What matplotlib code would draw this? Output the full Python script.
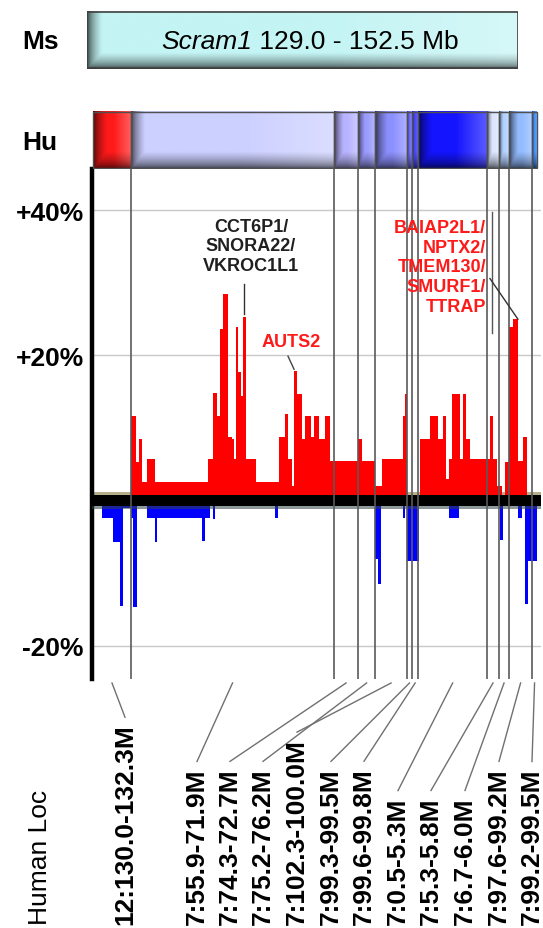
import numpy as np
import matplotlib
matplotlib.use("Agg")
import matplotlib.pyplot as plt
from matplotlib.colors import to_rgb
from matplotlib.lines import Line2D
from matplotlib.patches import Rectangle

plt.rcParams['font.family'] = ['Liberation Sans', 'DejaVu Sans']

# mouse position (Mb) of the step edges, gain (%) between them
gain_edges = [129.00, 131.01, 131.28, 131.43, 131.59, 131.86, 132.28, 135.09, 135.35, 135.56,
              135.72, 135.88, 136.15, 136.36, 136.46, 136.57, 136.67, 136.83, 136.94, 137.10,
              137.63, 138.84, 139.16, 139.32, 139.53, 139.64, 139.80, 140.06, 140.22, 140.54,
              140.70, 140.96, 141.28, 141.54, 143.03, 143.24, 143.93, 144.30, 145.41, 145.51,
              145.62, 146.31, 146.84, 147.26, 147.52, 147.68, 147.84, 148.00, 148.42, 148.58,
              148.74, 148.95, 150.01, 150.17, 150.38, 150.65, 150.81, 151.02, 151.23, 151.49,
              151.76, 151.97, 152.50]
gain_vals = [0, 11.7, 5.3, 8.5, 2.5, 5.7, 2.5, 5.7, 14.8, 11.7,
             23.7, 28.5, 8.8, 8.5, 5.7, 23.9, 17.7, 14.4, 25.3, 5.7,
             2.5, 8.8, 11.9, 5.7, 2.0, 17.9, 14.7, 8.5, 11.7, 8.8,
             11.7, 8.5, 11.7, 5.4, 8.5, 5.4, 2.0, 5.7, 11.6, 14.7,
             0, 8.5, 11.7, 8.5, 11.7, 3.0, 5.7, 14.7, 5.7, 14.7,
             8.5, 5.7, 11.7, 5.7, 2.0, 0, 5.3, 23.9, 25.0, 5.4,
             8.8, 0]

loss_edges = [129.00, 129.11, 129.48, 130.06, 130.43, 130.59, 131.01, 131.12, 131.33, 131.86,
              132.28, 132.39, 134.77, 134.93, 135.19, 135.35, 135.46, 138.63, 138.79, 143.93,
              144.08, 144.24, 145.41, 145.51, 145.62, 146.25, 147.84, 148.37, 150.54, 150.70,
              151.49, 151.71, 151.86, 152.02, 152.50]
loss_vals = [0, -0.8, -2.4, -5.7, -14.5, -1.0, -2.4, -14.7, -0.6, -2.4,
             -5.7, -2.4, -5.6, -2.4, 0, -2.6, 0, -2.4, 0, -8.1,
             -11.5, 0, -2.4, 0, -8.3, 0, -2.4, 0, -5.5, 0,
             -2.4, 0, -14.3, -8.3]

# human synteny blocks
seg_edges = [129.00, 131.01, 141.76, 143.03, 143.93, 145.62, 145.88, 146.22,
             149.85, 150.49, 151.02, 152.24, 152.50]
seg_colors = ['#ff1a1a', '#ccd0ff', '#b8b4ff', '#9c9cff', '#8c90ff', '#6464ff',
              '#4a4aff', '#1414ff', '#dce6ff', '#b4d2ff', '#94bcff', '#3a8cff']
human_loc = ['12:130.0-132.3M', '7:55.9-71.9M', '7:74.3-72.7M', '7:75.2-76.2M',
             '7:102.3-100.0M', '7:99.3-99.5M', '7:99.6-99.8M', '7:0.5-5.3M',
             '7:5.3-5.8M', '7:6.7-6.0M', '7:97.6-99.2M', '7:99.2-99.5M']
label_x = [125, 197, 230, 263, 297, 331, 364, 398, 431, 465, 499, 532]

W, H = 543, 929
fig = plt.figure(figsize=(W / 100, H / 100), dpi=100)


def px_axes(x0, y0, x1, y1):
    return fig.add_axes([x0 / W, 1 - y1 / H, (x1 - x0) / W, (y1 - y0) / H])


def bevel(color, wpx, edge_px=14, bot=0.3, nx=200, ny=60):
    rgb = np.array(to_rgb(color))
    xs = (np.arange(nx) + 0.5) / nx * wpx
    ys = (np.arange(ny) + 0.5) / ny
    lw = min(edge_px, 0.4 * wpx)
    fx = np.clip(xs / lw, 0, 1)
    fy = np.clip((1 - ys) / bot, 0, 1)
    f = np.sqrt(np.minimum(fx[None, :], fy[:, None]))
    img = rgb * (0.12 + 0.88 * f)[..., None]
    hx = np.clip((xs / wpx - 0.55) / 0.45, 0, 1) * 0.3
    img = img + (1 - img) * (hx[None, :] * f)[..., None]
    return np.clip(img, 0, 1)


XMIN, XMAX = 128.947, 152.711
PX_PER_MB = 18.894

# main profile
ax = px_axes(92, 170, 541, 680)
for y in (40, 20, -20):
    ax.axhline(y, color='#c8c8c8', lw=1, zorder=0)
ax.axhspan(0.75, 1.2, color='#b5b08a', lw=0, zorder=1)
ax.stairs(gain_vals, gain_edges, baseline=0, fill=True, color='#ff0000', zorder=2)
ax.stairs(loss_vals, loss_edges, baseline=0, fill=True, color='#0000ff', zorder=2)
ax.axhspan(-0.75, 0.75, color='black', lw=0, zorder=4)
ax.axhspan(-1.2, -0.75, color='#2f4444', alpha=0.55, lw=0, zorder=4)
for b in seg_edges[1:-1]:
    ax.axvline(b, color='#5a5a5a', lw=1.2, zorder=5)

ax.set_xlim(XMIN, XMAX)
ax.set_ylim(-24.6, 45.7)
ax.set_xticks([])
ax.set_yticks([40, 20, -20])
ax.set_yticklabels(['+40%', '+20%', '-20%'], fontsize=19, fontweight='bold')
ax.tick_params(axis='y', length=0, pad=6)
for s in ('top', 'right', 'bottom'):
    ax.spines[s].set_visible(False)
ax.spines['left'].set_linewidth(3.2)

ax.text(137.36, 35.1, "CCT6P1/\nSNORA22/\nVKROC1L1", ha='center', va='center',
        fontsize=13, fontweight='bold', color='#202020', linespacing=1.2, zorder=6)
ax.plot([136.99, 136.99], [29.9, 25.7], color='#333333', lw=1, zorder=6)
ax.text(139.48, 21.9, "AUTS2", ha='center', va='center', fontsize=13,
        fontweight='bold', color='#ff1a1a', zorder=6)
ax.plot([139.32, 139.64], [19.9, 18.1], color='#444444', lw=1, zorder=6)
ax.text(149.80, 32.2, "BAIAP2L1/\nNPTX2/\nTMEM130/\nSMURF1/\nTTRAP", ha='right',
        va='center', multialignment='right', fontsize=13, fontweight='bold',
        color='#ff1a1a', linespacing=1.2, zorder=6)
ax.plot([150.12, 150.12], [39.8, 23.1], color='#555555', lw=1, zorder=6)
ax.plot([150.01, 151.49], [30.6, 25.0], color='#333333', lw=1, zorder=6)

# human bar
hax = px_axes(92, 112, 541, 170)
for i, c in enumerate(seg_colors):
    e0, e1 = seg_edges[i], seg_edges[i + 1]
    hax.imshow(bevel(c, (e1 - e0) * PX_PER_MB), extent=(e0, e1, 0, 1),
               aspect='auto', interpolation='bilinear')
    hax.add_patch(Rectangle((e0, 0.01), e1 - e0, 0.98, fill=False,
                            ec='#505050', lw=1))
hax.set_xlim(XMIN, XMAX)
hax.set_ylim(0, 1)
hax.axis('off')

# mouse bar
max_ = px_axes(87, 12, 518, 70)
max_.imshow(bevel('#c4f4f4', 431, edge_px=15, bot=0.28), extent=(0, 1, 0, 1),
            aspect='auto', interpolation='bilinear')
max_.add_patch(Rectangle((0, 0.01), 1, 0.98, fill=False, ec='#404040', lw=1.2))
max_.set_xlim(0, 1)
max_.set_ylim(0, 1)
max_.axis('off')

fig.text(41 / W, 1 - 42 / H, 'Ms', ha='center', va='center', fontsize=19, fontweight='bold')
fig.text(40 / W, 1 - 143 / H, 'Hu', ha='center', va='center', fontsize=19, fontweight='bold')
fig.text(40 / W, 1 - 925 / H, 'Human Loc', rotation=90, ha='center', va='bottom', fontsize=19)

t1 = fig.text(0, 1 - 42 / H, 'Scram1', style='italic', ha='left', va='center', fontsize=19)
t2 = fig.text(0, 1 - 42 / H, ' 129.0 - 152.5 Mb', ha='left', va='center', fontsize=19)

labels = []
for lab, x in zip(human_loc, label_x):
    labels.append(fig.text(x / W, 1 - 925 / H, lab, rotation=90, ha='center',
                           va='bottom', fontsize=19, fontweight='bold'))

fig.canvas.draw()
r = fig.canvas.get_renderer()
w1 = t1.get_window_extent(r).width
w2 = t2.get_window_extent(r).width
start = 310 - (w1 + w2) / 2
t1.set_x(start / W)
t2.set_x((start + w1) / W)

for i, t in enumerate(labels):
    top = H - t.get_window_extent(r).y1
    xc = (seg_edges[i] + seg_edges[i + 1]) / 2
    xs = ax.transData.transform((xc, 0))[0]
    fig.add_artist(Line2D([xs / W, label_x[i] / W], [1 - 684 / H, 1 - (top - 6) / H],
                          transform=fig.transFigure, color='#707070', lw=1))

fig.savefig('out.png', dpi=100)
